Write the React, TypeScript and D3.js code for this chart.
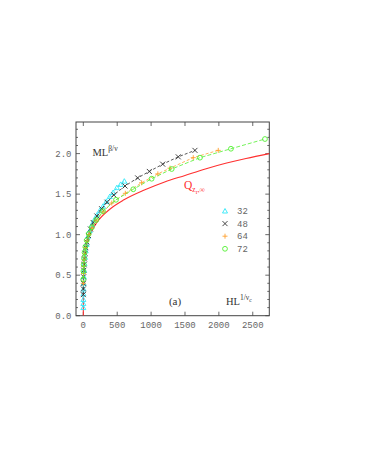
import React from "react";
import * as d3 from "d3";

const xTicks = [0, 500, 1000, 1500, 2000, 2500];
const yTicks = [0, 0.5, 1.0, 1.5, 2.0];
const yMinor = d3.range(0, 24).map((i) => i / 10);

const qH = [0, 0.2, 1, 3, 10, 30, 60, 100, 200, 400, 600, 900, 1200, 1500, 1800, 2100, 2400, 2745];
const qM = [0, 0.28, 0.38, 0.48, 0.62, 0.78, 0.90, 1.0, 1.15, 1.32, 1.43, 1.55, 1.65, 1.73, 1.81, 1.88, 1.94, 2.0];

const h32 = [0, 0.5, 1, 2, 3, 5, 8, 12, 18, 26, 36, 50, 70, 95, 125, 160, 200, 245, 290, 340, 390, 440, 495, 550, 605];
const m32 = [0.10, 0.15, 0.20, 0.27, 0.33, 0.40, 0.48, 0.56, 0.64, 0.72, 0.80, 0.88, 0.98, 1.05, 1.12, 1.18, 1.24, 1.30, 1.35, 1.41, 1.47, 1.52, 1.58, 1.62, 1.66];

const h48 = [0, 1, 2, 4, 7, 11, 17, 25, 36, 52, 75, 105, 145, 200, 270, 350, 450, 615, 802, 974, 1171, 1401, 1647];
const m48 = [0.26, 0.33, 0.40, 0.48, 0.56, 0.63, 0.70, 0.77, 0.84, 0.91, 0.99, 1.07, 1.15, 1.23, 1.32, 1.40, 1.49, 1.60, 1.70, 1.78, 1.87, 1.96, 2.04];

const h64 = [0, 2, 5, 10, 18, 30, 50, 80, 125, 190, 290, 420, 620, 860, 1100, 1279, 1622, 1991];
const m64 = [0.40, 0.52, 0.61, 0.69, 0.77, 0.84, 0.92, 1.00, 1.08, 1.17, 1.28, 1.39, 1.51, 1.64, 1.75, 1.82, 1.95, 2.04];

const h72 = [0, 2, 5, 10, 18, 30, 50, 80, 125, 190, 290, 482, 737, 1008, 1304, 1721, 2178, 2680];
const m72 = [0.45, 0.55, 0.63, 0.71, 0.78, 0.85, 0.93, 1.01, 1.09, 1.18, 1.29, 1.43, 1.56, 1.69, 1.81, 1.95, 2.06, 2.18];

const legendLabels = ["32", "48", "64", "72"];

const W = 365;
const H = 473;
const L = 76, R = 269.3, T = 122, B = 315.7;

const x = d3.scaleLinear().domain([-108, 2744]).range([L, R]);
const y = d3.scaleLinear().domain([0, 2.39]).range([B, T]);

const line = d3
  .line<[number, number]>()
  .x((d) => x(d[0]))
  .y((d) => y(d[1]));
const smooth = d3
  .line<[number, number]>()
  .x((d) => x(d[0]))
  .y((d) => y(d[1]))
  .curve(d3.curveMonotoneX);

const zip = (a: number[], b: number[]) => a.map((v, i) => [v, b[i]] as [number, number]);

type Kind = "tri" | "x" | "plus" | "circ";

function Marker({ kind, cx, cy, color }: { kind: Kind; cx: number; cy: number; color: string }) {
  const s = 2.5;
  if (kind === "tri")
    return (
      <path
        d={`M${cx},${cy - s}L${cx + s},${cy + s * 0.8}L${cx - s},${cy + s * 0.8}Z`}
        fill="none"
        stroke={color}
        strokeWidth={0.9}
      />
    );
  if (kind === "x")
    return (
      <path
        d={`M${cx - s},${cy - s}L${cx + s},${cy + s}M${cx - s},${cy + s}L${cx + s},${cy - s}`}
        stroke={color}
        strokeWidth={0.9}
      />
    );
  if (kind === "plus")
    return (
      <path
        d={`M${cx - s},${cy}L${cx + s},${cy}M${cx},${cy - s}L${cx},${cy + s}`}
        stroke={color}
        strokeWidth={0.9}
      />
    );
  return <circle cx={cx} cy={cy} r={2.4} fill="none" stroke={color} strokeWidth={0.9} />;
}

const series: { h: number[]; m: number[]; color: string; kind: Kind; dash: string }[] = [
  { h: h32, m: m32, color: "#30e8f8", kind: "tri", dash: "3,2" },
  { h: h48, m: m48, color: "#303030", kind: "x", dash: "3,2" },
  { h: h64, m: m64, color: "#ffa030", kind: "plus", dash: "3,2" },
  { h: h72, m: m72, color: "#50f030", kind: "circ", dash: "4,2" },
];

export default function App() {
  const mono = "'Liberation Mono', 'DejaVu Sans Mono', monospace";
  const serif = "'Liberation Serif', 'DejaVu Serif', serif";
  const tickCol = "#666";
  return (
    <svg width={W} height={H} style={{ position: "absolute", left: 0, top: 0 }} xmlns="http://www.w3.org/2000/svg">
      <rect width={W} height={H} fill="#fff" />
      <defs>
        <clipPath id="plot">
          <rect x={L} y={T} width={R - L} height={B - T} />
        </clipPath>
      </defs>
      <rect x={L} y={T} width={R - L} height={B - T} fill="none" stroke="#444" strokeWidth={1} />
      {yMinor.map((v) => {
        const major = Math.abs(v * 2 - Math.round(v * 2)) < 1e-6;
        const len = major ? 4 : 2;
        return (
          <g key={"ym" + v}>
            <line x1={L} x2={L + len} y1={y(v)} y2={y(v)} stroke="#444" strokeWidth={0.8} />
            <line x1={R} x2={R - len} y1={y(v)} y2={y(v)} stroke="#444" strokeWidth={0.8} />
          </g>
        );
      })}
      {yTicks.map((v) => (
        <text key={"yl" + v} x={71.5} y={y(v) + 3} textAnchor="end" fontFamily={mono} fontSize={9} fill={tickCol}>
          {v.toFixed(1)}
        </text>
      ))}
      {xTicks.map((v) => (
        <g key={"xt" + v}>
          <line x1={x(v)} x2={x(v)} y1={B} y2={B - 4} stroke="#444" strokeWidth={0.8} />
          <line x1={x(v)} x2={x(v)} y1={T} y2={T + 4} stroke="#444" strokeWidth={0.8} />
          <text x={x(v)} y={327.5} textAnchor="middle" fontFamily={mono} fontSize={9} fill={tickCol}>
            {v}
          </text>
        </g>
      ))}
      <g clipPath="url(#plot)">
        <path d={smooth(zip(qH, qM)) || ""} fill="none" stroke="#ff3030" strokeWidth={1.1} />
        {series.map((s, i) => (
          <g key={"s" + i}>
            <path d={line(zip(s.h, s.m)) || ""} fill="none" stroke={s.color} strokeWidth={0.8} strokeDasharray={s.dash} />
            {s.h.map((hv, j) => (
              <Marker key={j} kind={s.kind} cx={x(hv)} cy={y(s.m[j])} color={s.color} />
            ))}
          </g>
        ))}
      </g>
      {legendLabels.map((lab, i) => {
        const ly = 211 + i * 12.6;
        return (
          <g key={"lg" + i}>
            <Marker kind={series[i].kind} cx={225} cy={ly} color={series[i].color} />
            <text x={237} y={ly + 3} fontFamily={mono} fontSize={9} fill={tickCol}>
              {lab}
            </text>
          </g>
        );
      })}
      <text x={92.5} y={156} fontFamily={serif} fontSize={10.5} fill="#333">
        ML
        <tspan fontSize={7.5} dy={-5}>β/ν</tspan>
      </text>
      <text x={184} y={189} fontFamily={serif} fontSize={11.5} fill="#ff3030">
        Q
        <tspan fontSize={7.5} dy={3}>z</tspan>
        <tspan fontSize={6} dy={2}>r</tspan>
        <tspan fontSize={7.5} dy={-2}>,∞</tspan>
      </text>
      <text x={175} y={305} textAnchor="middle" fontFamily={serif} fontSize={11} fill="#333">
        (a)
      </text>
      <text x={226} y={305} fontFamily={serif} fontSize={10.5} fill="#333">
        HL
        <tspan fontSize={7.5} dy={-5}>1/ν</tspan>
        <tspan fontSize={5.5} dy={2}>c</tspan>
      </text>
    </svg>
  );
}
